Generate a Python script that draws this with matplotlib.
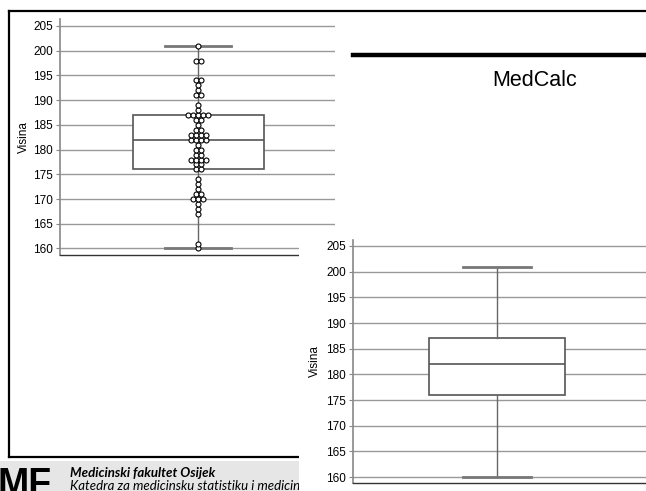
import numpy as np
import matplotlib as mpl

mpl.use('Agg')

import matplotlib.pyplot as plt
from matplotlib.lines import Line2D
from matplotlib.patches import Rectangle

plt.rcParams['font.family'] = ['Liberation Sans', 'DejaVu Sans']

# visina (cm) i broj ispitanika s tom vrijednoscu
heights = [160, 161, 167, 168, 169, 170, 171, 172, 173, 174, 176, 177, 178,
           179, 180, 181, 182, 183, 184, 185, 186, 187, 188, 189, 191, 192,
           193, 194, 198, 201]
counts = [1, 1, 1, 1, 1, 3, 2, 1, 1, 1, 2, 2, 4,
          2, 2, 1, 4, 4, 2, 1, 2, 5, 1, 1, 2, 1,
          1, 2, 2, 1]
yticks = [160, 165, 170, 175, 180, 185, 190, 195, 200, 205]
ylabel = 'Visina'

data = np.repeat(heights, counts)

W, H = 646, 491


def px_axes(fig, x0, y0, x1, y1, **kw):
    # osi zadane u pikselima (ishodiste gore lijevo)
    return fig.add_axes([x0 / W, 1 - y1 / H, (x1 - x0) / W, (y1 - y0) / H], **kw)


def style_axes(ax, ylim, center, width, capw):
    ax.boxplot(data, positions=[center], widths=width, whis=1.5,
               showfliers=False, patch_artist=True,
               boxprops=dict(facecolor='white', edgecolor='#555555', lw=1.2),
               medianprops=dict(color='#555555', lw=1.2),
               whiskerprops=dict(color='#666666', lw=1.0),
               capprops=dict(color='#777777', lw=2.0),
               capwidths=capw, zorder=3)
    ax.set_xlim(0, 1)
    ax.set_ylim(*ylim)
    ax.set_yticks(yticks)
    ax.set_xticks([])
    ax.yaxis.grid(True, color='#999999', lw=1.0)
    ax.set_axisbelow(True)
    for s in ['top', 'right']:
        ax.spines[s].set_visible(False)
    ax.spines['left'].set_color('#888888')
    ax.spines['left'].set_linewidth(1.2)
    ax.spines['bottom'].set_color('#333333')
    ax.spines['bottom'].set_linewidth(1.0)
    ax.tick_params(axis='y', length=3, color='#888888', labelsize=8.5, pad=2)
    ax.set_ylabel(ylabel, fontsize=8.5)


fig = plt.figure(figsize=(W / 100, H / 100), dpi=100)

# okvir slajda
fig.add_artist(Line2D([9 / W, 1], [1 - 11 / H] * 2, color='black', lw=1.6, zorder=2))
fig.add_artist(Line2D([9 / W] * 2, [1 - 11 / H, 1 - 457 / H], color='black', lw=1.6, zorder=2))
fig.add_artist(Line2D([9 / W, 300 / W], [1 - 457 / H] * 2, color='black', lw=1.6, zorder=2))
fig.add_artist(Line2D([353 / W, 1], [1 - 55 / H] * 2, color='black', lw=3.2, zorder=2))
fig.text(535 / W, 1 - 80 / H, 'MedCalc', fontsize=15.5, ha='center', va='center')

# podnozje (desni graf ga djelomicno prekriva)
footer = Rectangle((0, 0), 299 / W, 30 / H, transform=fig.transFigure,
                   facecolor='#e6e6e6', edgecolor='none', zorder=1)
fig.add_artist(footer)
t1 = fig.text(-2 / W, 1 - 495 / H, 'MF', fontsize=27, fontweight='bold',
              ha='left', va='baseline', zorder=3)
t2 = fig.text(70 / W, 1 - 477 / H, 'Medicinski fakultet Osijek', fontsize=9.5,
              fontweight='bold', style='italic', family=['Lato', 'DejaVu Sans'],
              va='baseline', zorder=3)
t3 = fig.text(70 / W, 1 - 490 / H, 'Katedra za medicinsku statistiku i medicinsk',
              fontsize=9.5, style='italic', family=['Lato', 'DejaVu Sans'],
              va='baseline', zorder=3)
for t in (t1, t2, t3):
    t.set_clip_path(footer)

# lijevi graf: box plot s tockama
ax1 = px_axes(fig, 60, 19, 335, 255, zorder=1)
px1 = (248.5 - 26) / 45
style_axes(ax1, (160 - 6.5 / px1, 205 + 7 / px1), 0.502, 0.476, 0.24)
step = 5.0 / 275
for h, c in zip(heights, counts):
    xs = 0.502 + (np.arange(c) - (c - 1) / 2) * step
    ax1.plot(xs, [h] * c, 'o', ms=3.6, mfc='white', mec='black', mew=0.8,
             zorder=4, clip_on=False)
ax1.yaxis.set_label_coords(-0.11, 0.5)

# desni graf: samo box plot
bg = px_axes(fig, 299, 235, 646, 491, zorder=5)
bg.set_axis_off()
bg.add_patch(Rectangle((0, 0), 1, 1, facecolor='white', edgecolor='none',
                       transform=bg.transAxes))
ax2 = px_axes(fig, 353, 240, 646, 483, zorder=6)
px2 = (477 - 246) / 45
style_axes(ax2, (160 - 6 / px2, 205 + 6 / px2), 0.491, 0.464, 0.232)
ax2.yaxis.set_label_coords(-0.11, 0.5)

fig.savefig('out.png', dpi=100)
